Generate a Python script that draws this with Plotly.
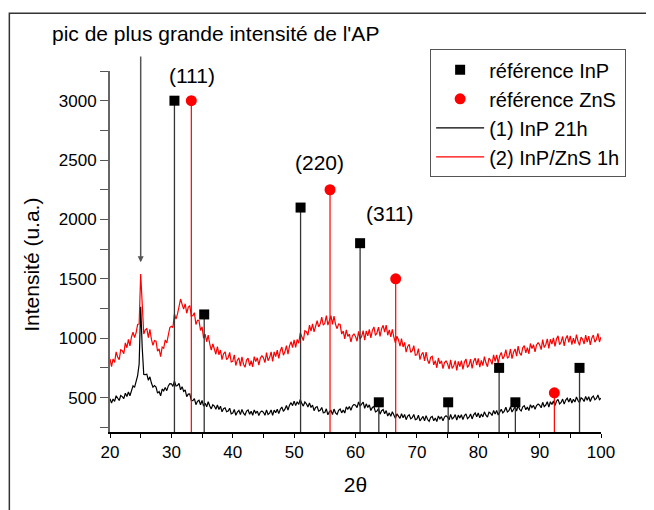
import numpy as np
import plotly.graph_objects as go

# angles 2θ (pas de 0.25°)
deux_theta = np.arange(20, 100.001, 0.25)

# (1) InP 21h
inp_21h = [
    490, 453, 488, 468, 515, 489, 475, 517, 508, 491, 537, 509, 547, 515, 566, 599, 586, 627, 685, 783,
    1265, 922, 695, 693, 697, 646, 675, 622, 588, 601, 589, 538, 551, 515, 572, 557, 584, 558, 598, 617,
    616, 594, 640, 598, 602, 620, 565, 592, 552, 564, 508, 529, 530, 475, 474, 491, 440, 468, 477, 439,
    475, 428, 453, 423, 465, 429, 405, 439, 428, 401, 437, 399, 427, 380, 406, 414, 381, 387, 410, 363,
    369, 400, 351, 378, 392, 356, 400, 368, 353, 386, 395, 360, 384, 351, 396, 369, 386, 349, 378, 387,
    376, 351, 396, 357, 369, 395, 350, 394, 372, 402, 365, 402, 420, 384, 402, 433, 395, 436, 457, 432,
    470, 432, 465, 442, 485, 451, 428, 463, 448, 420, 455, 416, 437, 390, 416, 424, 386, 393, 417, 372,
    374, 405, 355, 381, 392, 357, 403, 371, 358, 393, 404, 371, 396, 370, 422, 402, 424, 393, 428, 442,
    436, 415, 463, 427, 442, 462, 410, 447, 417, 438, 391, 417, 425, 379, 387, 408, 360, 389, 400, 363,
    390, 344, 371, 342, 380, 347, 325, 362, 348, 325, 365, 330, 357, 314, 344, 355, 321, 331, 358, 314,
    319, 351, 303, 329, 342, 305, 348, 315, 300, 333, 341, 305, 328, 298, 345, 321, 339, 304, 336, 346,
    336, 312, 358, 320, 332, 357, 310, 352, 327, 355, 314, 348, 363, 323, 335, 362, 320, 354, 370, 338,
    370, 329, 361, 337, 380, 352, 335, 377, 368, 349, 392, 362, 392, 353, 386, 402, 371, 386, 418, 379,
    389, 423, 378, 407, 422, 387, 433, 401, 388, 422, 432, 397, 421, 391, 440, 416, 434, 401, 433, 445,
    436, 414, 460, 424, 437, 465, 420, 465, 442, 472, 433, 469, 485, 446, 459, 487, 445, 479, 495, 463,
    495, 454, 486, 462, 505, 475, 458, 498, 488, 467, 510, 478, 507, 466, 499, 513, 481, 493, 522, 482, 495,
]

# (2) InP/ZnS 1h
inp_zns_1h = [
    825, 760, 825, 795, 885, 840, 820, 903, 895, 870, 960, 920, 990, 935, 1010, 1050, 1005, 1045, 1115, 1120,
    1540, 1240, 1035, 1070, 1080, 1005, 1075, 990, 940, 980, 975, 890, 910, 845, 925, 915, 985, 960, 1045, 1090,
    1100, 1090, 1205, 1160, 1205, 1270, 1330, 1285, 1245, 1290, 1210, 1260, 1275, 1185, 1190, 1215, 1115, 1150, 1150, 1065,
    1095, 1000, 1035, 970, 1025, 952, 900, 953, 915, 865, 930, 860, 900, 819, 868, 886, 820, 835, 880, 800,
    805, 860, 770, 815, 835, 765, 843, 781, 755, 816, 832, 768, 810, 758, 845, 803, 835, 774, 833, 852,
    835, 794, 878, 811, 835, 885, 805, 885, 845, 900, 830, 895, 925, 857, 885, 937, 865, 935, 970, 920,
    985, 922, 990, 958, 1045, 1002, 980, 1063, 1055, 1025, 1110, 1060, 1120, 1053, 1115, 1147, 1095, 1121, 1177, 1109,
    1125, 1190, 1110, 1163, 1190, 1117, 1185, 1115, 1080, 1120, 1115, 1035, 1060, 995, 1070, 1015, 1035, 968, 1021, 1035,
    1015, 974, 1058, 991, 1015, 1064, 983, 1061, 1020, 1074, 1003, 1066, 1095, 1023, 1046, 1093, 1015, 1079, 1108, 1051,
    1110, 1025, 1070, 1012, 1075, 1008, 960, 1017, 985, 933, 997, 926, 965, 883, 930, 947, 880, 895, 938, 857,
    860, 913, 820, 863, 880, 809, 883, 816, 785, 839, 848, 776, 810, 751, 833, 784, 810, 743, 795, 808,
    785, 739, 818, 746, 765, 811, 728, 804, 760, 811, 738, 799, 825, 753, 775, 823, 745, 806, 833, 774,
    830, 756, 813, 769, 845, 793, 760, 833, 815, 780, 860, 805, 860, 790, 850, 880, 825, 849, 903, 831,
    845, 909, 828, 881, 910, 849, 933, 876, 855, 919, 938, 876, 920, 868, 955, 913, 945, 884, 943, 961,
    945, 904, 988, 921, 945, 994, 913, 991, 950, 1003, 930, 993, 1020, 946, 968, 1014, 935, 996, 1023, 964,
    1020, 945, 1000, 955, 1030, 975, 940, 1010, 990, 951, 1026, 967, 1018, 944, 1000, 1026, 967, 989, 1041, 968, 1010,
]

# fiches de référence
ref_inp_pos = [30.5, 35.35, 51.05, 60.75, 63.8, 75.1, 83.4, 86.05, 96.5]
ref_inp_int = [3000, 1200, 2100, 1800, 460, 460, 750, 460, 750]
ref_zns_pos = [33.25, 55.85, 66.55, 92.4]
ref_zns_int = [3000, 2250, 1500, 540]

y_min, y_max = 210, 3250


def tiges(xs, ys, base):
    x, y = [], []
    for a, b in zip(xs, ys):
        x += [a, a, None]
        y += [base, b, None]
    return x, y


fig = go.Figure()

fig.add_trace(go.Scatter(x=deux_theta, y=inp_21h, mode="lines",
                         line=dict(color="black", width=1.2),
                         name="(1) InP 21h", legendrank=3))
fig.add_trace(go.Scatter(x=deux_theta, y=inp_zns_1h, mode="lines",
                         line=dict(color="red", width=1.2),
                         name="(2) InP/ZnS 1h", legendrank=4))

tx, ty = tiges(ref_inp_pos, ref_inp_int, y_min)
fig.add_trace(go.Scatter(x=tx, y=ty, mode="lines", line=dict(color="#333333", width=1.3),
                         showlegend=False, hoverinfo="skip"))
tx, ty = tiges(ref_zns_pos, ref_zns_int, y_min)
fig.add_trace(go.Scatter(x=tx, y=ty, mode="lines", line=dict(color="red", width=1.2),
                         showlegend=False, hoverinfo="skip"))

fig.add_trace(go.Scatter(x=ref_inp_pos, y=ref_inp_int, mode="markers",
                         marker=dict(symbol="square", size=10, color="black"),
                         name="référence InP", legendrank=1))
fig.add_trace(go.Scatter(x=ref_zns_pos, y=ref_zns_int, mode="markers",
                         marker=dict(symbol="circle", size=11, color="red"),
                         name="référence ZnS", legendrank=2))

police = "Liberation Sans, Arial, sans-serif"

annotations = [
    dict(text="pic de plus grande intensité de l'AP", xref="paper", yref="paper",
         x=0.214, y=1.105, xanchor="center", yanchor="middle",
         showarrow=False, font=dict(size=21)),
    dict(text="Intensité (u.a.)", xref="paper", yref="paper", x=-0.159, y=0.463,
         xanchor="center", yanchor="middle",
         textangle=-90, showarrow=False, font=dict(size=21)),
    dict(text="", x=25, y=1640, ax=25, ay=3385, axref="x", ayref="y",
         showarrow=True, arrowhead=2, arrowsize=0.8, arrowwidth=1.5, arrowcolor="#555555"),
]
for txt, xx, yy in [("(111)", 33.4, 3210), ("(220)", 54.2, 2480), ("(311)", 65.6, 2050),
                    ("(2)", 103.3, 1093), ("(1)", 103.3, 496)]:
    annotations.append(dict(text=txt, x=xx, y=yy, showarrow=False, font=dict(size=21)))

# la page ajoute 8 px de marge autour de la figure
fig.update_layout(
    width=646, height=502,
    margin=dict(l=102, r=53, t=63, b=78),
    paper_bgcolor="white", plot_bgcolor="white",
    font=dict(family=police, size=17, color="black"),
    showlegend=True,
    legend=dict(x=0.652, y=1.06, xanchor="left", yanchor="top",
                bordercolor="#555555", borderwidth=1, bgcolor="white",
                font=dict(size=20), tracegroupgap=0, itemwidth=48),
    annotations=annotations,
    shapes=[dict(type="rect", xref="paper", yref="paper",
                 x0=-0.205, x1=1.13, y0=-0.25, y1=1.16,
                 line=dict(color="#333333", width=1.5))],
)

fig.update_xaxes(range=[20, 100], tick0=20, dtick=10, ticks="outside", ticklen=4,
                 tickcolor="black", showline=True, linecolor="black", linewidth=1.5,
                 showgrid=False, zeroline=False,
                 minor=dict(dtick=5, ticks="outside", ticklen=4, tickcolor="black"),
                 title=dict(text="2θ", font=dict(size=21), standoff=16))
fig.update_yaxes(range=[y_min, y_max], tickmode="array", tickvals=[500, 1000, 1500, 2000, 2500, 3000],
                 ticks="outside", ticklen=8, tickcolor="#555555", showline=True,
                 linecolor="#666666", linewidth=2, showgrid=False, zeroline=False,
                 minor=dict(tickvals=[250, 750, 1250, 1750, 2250, 2750, 3250], ticks="outside",
                            ticklen=8, tickcolor="#555555"))

fig.write_html("out.html")
